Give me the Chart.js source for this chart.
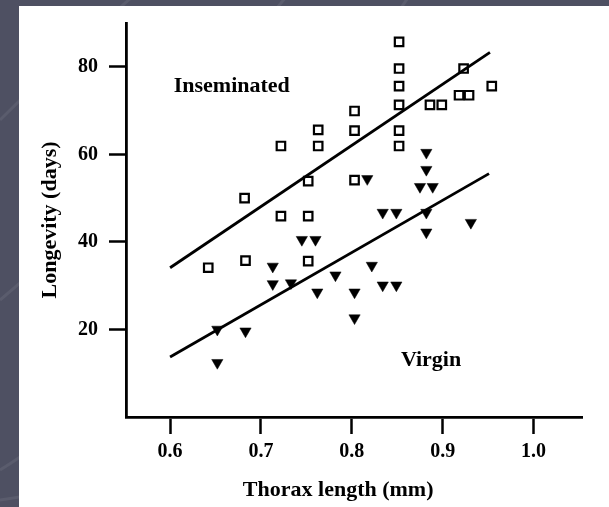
<!DOCTYPE html>
<html lang="en">
<head>
<meta charset="UTF-8">
<title>Longevity vs thorax length</title>
<script src="https://cdn.jsdelivr.net/npm/chart.js"></script>
<style>
  html, body { margin: 0; padding: 0; background: #4e5062; }
  canvas { display: block; }
</style>
</head>
<body>
<canvas id="myChart" width="609" height="507"></canvas>
<script>
// Inseminated females (open squares)
const insemThorax = [0.642, 0.682, 0.683, 0.722, 0.722, 0.752, 0.752, 0.752, 0.763, 0.763,
                     0.803, 0.803, 0.803, 0.852, 0.852, 0.852, 0.852, 0.852, 0.852, 0.886,
                     0.899, 0.918, 0.929, 0.923, 0.954];
const insemLongevity = [34.1, 50.0, 35.7, 61.9, 45.9, 53.9, 45.9, 35.6, 65.6, 61.9,
                        69.9, 65.4, 54.1, 85.7, 79.6, 75.6, 71.3, 65.4, 61.9, 71.3,
                        71.3, 73.5, 73.5, 79.6, 75.6];

// Virgin females (filled triangles)
const virginThorax = [0.652, 0.652, 0.683, 0.713, 0.713, 0.733, 0.745, 0.760, 0.762, 0.782,
                      0.803, 0.803, 0.817, 0.822, 0.834, 0.849, 0.834, 0.849, 0.882, 0.882,
                      0.875, 0.889, 0.882, 0.882, 0.931];
const virginLongevity = [20.0, 12.4, 19.6, 34.4, 30.4, 30.6, 40.5, 40.5, 28.5, 32.4,
                         28.5, 22.6, 54.4, 34.6, 46.7, 46.7, 30.1, 30.1, 60.4, 56.5,
                         52.6, 52.6, 46.7, 42.2, 44.4];

// fitted lines, end points
const insemFitThorax = [0.6, 0.952];
const insemFitLongevity = [34.1, 83.3];
const virginFitThorax = [0.6, 0.951];
const virginFitLongevity = [13.7, 55.6];

const xTicks = [0.6, 0.7, 0.8, 0.9, 1.0];
const xTickLabels = ['0.6', '0.7', '0.8', '0.9', '1.0'];
const yTicks = [20, 40, 60, 80];
const yTickLabels = ['20', '40', '60', '80'];
const groupLabels = ['Inseminated', 'Virgin'];
const xTitle = 'Thorax length (mm)';
const yTitle = 'Longevity (days)';

function toPoints(xs, ys) {
    return xs.map((x, i) => ({ x: x, y: ys[i] }));
}

const serif = "'Liberation Serif', 'Times New Roman', serif";
const boldFont = size => ({ family: serif, size: size, weight: 'bold' });

// slate slide behind the white figure panel
const slideBackground = {
    id: 'slideBackground',
    beforeDraw(chart) {
        const ctx = chart.ctx;
        ctx.save();
        ctx.fillStyle = '#4e5062';
        ctx.fillRect(0, 0, chart.width, chart.height);
        ctx.strokeStyle = 'rgba(255,255,255,0.07)';
        ctx.lineWidth = 3;
        ctx.beginPath();
        ctx.moveTo(0, 300); ctx.quadraticCurveTo(120, 200, 300, -20);
        ctx.moveTo(0, 470); ctx.quadraticCurveTo(150, 380, 420, -20);
        ctx.moveTo(0, 500); ctx.quadraticCurveTo(250, 470, 640, 5);
        ctx.moveTo(0, 120); ctx.quadraticCurveTo(60, 60, 140, -10);
        ctx.stroke();
        ctx.fillStyle = '#ffffff';
        ctx.fillRect(19, 6, chart.width - 19, chart.height - 6);
        ctx.restore();
    }
};

// group names inside the plot and the x axis title
const figureText = {
    id: 'figureText',
    afterDraw(chart) {
        const { ctx, scales: { x, y } } = chart;
        ctx.save();
        ctx.fillStyle = '#000';
        ctx.font = 'bold 22px ' + serif;
        ctx.textAlign = 'left';
        ctx.textBaseline = 'alphabetic';
        ctx.fillText(groupLabels[0], x.getPixelForValue(0.604), y.getPixelForValue(74.2));
        ctx.fillText(groupLabels[1], x.getPixelForValue(0.854), y.getPixelForValue(11.7));
        ctx.textAlign = 'center';
        ctx.textBaseline = 'middle';
        ctx.fillText(xTitle, x.getPixelForValue(0.785), 490);
        ctx.restore();
    }
};

const ctx = document.getElementById('myChart').getContext('2d');
new Chart(ctx, {
    type: 'scatter',
    data: {
        datasets: [
            {
                label: groupLabels[0],
                data: toPoints(insemThorax, insemLongevity),
                pointStyle: 'rect',
                pointRadius: 6,
                borderColor: '#000',
                backgroundColor: 'rgba(0,0,0,0)',
                borderWidth: 2.2
            },
            {
                label: groupLabels[1],
                data: toPoints(virginThorax, virginLongevity),
                pointStyle: 'triangle',
                pointRotation: 180,
                pointRadius: 6.5,
                borderColor: '#000',
                backgroundColor: '#000',
                borderWidth: 0.5
            },
            {
                type: 'line',
                label: 'Inseminated fit',
                data: toPoints(insemFitThorax, insemFitLongevity),
                showLine: true,
                pointRadius: 0,
                borderColor: '#000',
                borderWidth: 2.8,
                fill: false
            },
            {
                type: 'line',
                label: 'Virgin fit',
                data: toPoints(virginFitThorax, virginFitLongevity),
                showLine: true,
                pointRadius: 0,
                borderColor: '#000',
                borderWidth: 2.8,
                fill: false
            }
        ]
    },
    options: {
        responsive: false,
        animation: false,
        events: [],
        layout: { padding: { top: 12, right: 27, bottom: 0, left: 0 } },
        plugins: {
            legend: { display: false },
            tooltip: { enabled: false }
        },
        scales: {
            x: {
                type: 'linear',
                min: 0.5515,
                max: 1.0533,
                afterBuildTicks: s => { s.ticks = xTicks.map(v => ({ value: v })); },
                afterFit: s => { s.height = 90; },
                ticks: {
                    callback: v => xTickLabels[xTicks.indexOf(v)],
                    color: '#000',
                    font: boldFont(20),
                    padding: 6,
                    maxRotation: 0
                },
                grid: { drawOnChartArea: false, tickLength: 17, tickWidth: 2.5, tickColor: '#000' },
                border: { color: '#000', width: 2.8 }
            },
            y: {
                min: 0,
                max: 90,
                afterBuildTicks: s => { s.ticks = yTicks.map(v => ({ value: v })); },
                afterFit: s => { s.width = 126; },
                ticks: {
                    callback: v => yTickLabels[yTicks.indexOf(v)],
                    color: '#000',
                    font: boldFont(20),
                    padding: 11
                },
                grid: { drawOnChartArea: false, tickLength: 17, tickWidth: 2.5, tickColor: '#000' },
                border: { color: '#000', width: 2.8 },
                title: {
                    display: true,
                    text: yTitle,
                    color: '#000',
                    font: boldFont(22),
                    padding: { top: 37, bottom: 0 }
                }
            }
        }
    },
    plugins: [slideBackground, figureText]
});
</script>
</body>
</html>
